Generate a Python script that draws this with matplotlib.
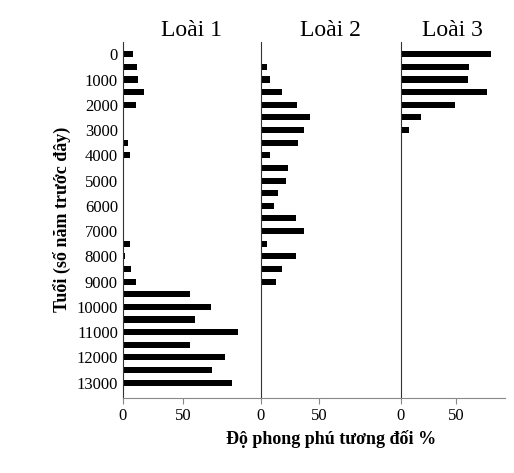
import numpy as np
import matplotlib
matplotlib.use('Agg')
import matplotlib.pyplot as plt

plt.rcParams['font.family'] = ['Liberation Serif', 'DejaVu Serif']

ages = np.arange(0, 13001, 500)
loai1 = [8.4, 12, 12.6, 18, 11, 0, 0, 4.5, 5.6, 0, 0, 0, 0, 0, 0, 6, 1.5, 7, 11,
         56, 73.6, 60, 96, 55.6, 85, 74.4, 91]
loai2 = [1.4, 5, 8, 18, 31, 42, 37, 32, 8, 23, 22, 15, 11.5, 30.5, 37, 5, 30.5, 18, 12.6,
         0, 0, 0, 0, 0, 0, 0, 0]
loai3 = [81.6, 62, 61, 78, 49, 18, 7.5] + [0] * 20
titles = ['Loài 1', 'Loài 2', 'Loài 3']
series = [loai1, loai2, loai3]
xmax = [115, 120, 94]

fig = plt.figure(figsize=(5.14, 4.73), dpi=100)
gs = fig.add_gridspec(1, 3, width_ratios=[138, 140, 104], wspace=0,
                      left=0.239, right=0.982, bottom=0.159, top=0.912)
for i in range(3):
    ax = fig.add_subplot(gs[0, i])
    ax.barh(ages, series[i], height=240, color='black')
    ax.set_xlim(0, xmax[i])
    ax.set_ylim(13600, -500)
    ax.spines['top'].set_visible(False)
    ax.spines['right'].set_visible(False)
    ax.spines['left'].set_color('#333333')
    ax.spines['bottom'].set_color('#888888')
    ax.set_xticks([0, 50])
    ax.tick_params(axis='x', labelsize=12, length=4, color='#888888')
    ax.set_title(titles[i], fontsize=17, pad=4)
    if i == 0:
        ax.set_yticks(np.arange(0, 13001, 1000))
        ax.tick_params(axis='y', labelsize=12, length=0)
        ax.set_ylabel('Tuổi (số năm trước đây)', fontsize=13, fontweight='bold')
    else:
        ax.set_yticks([])
    if i == 1:
        ax.set_xlabel('Độ phong phú tương đối %', fontsize=13, fontweight='bold')

fig.savefig('out.png', dpi=100)
